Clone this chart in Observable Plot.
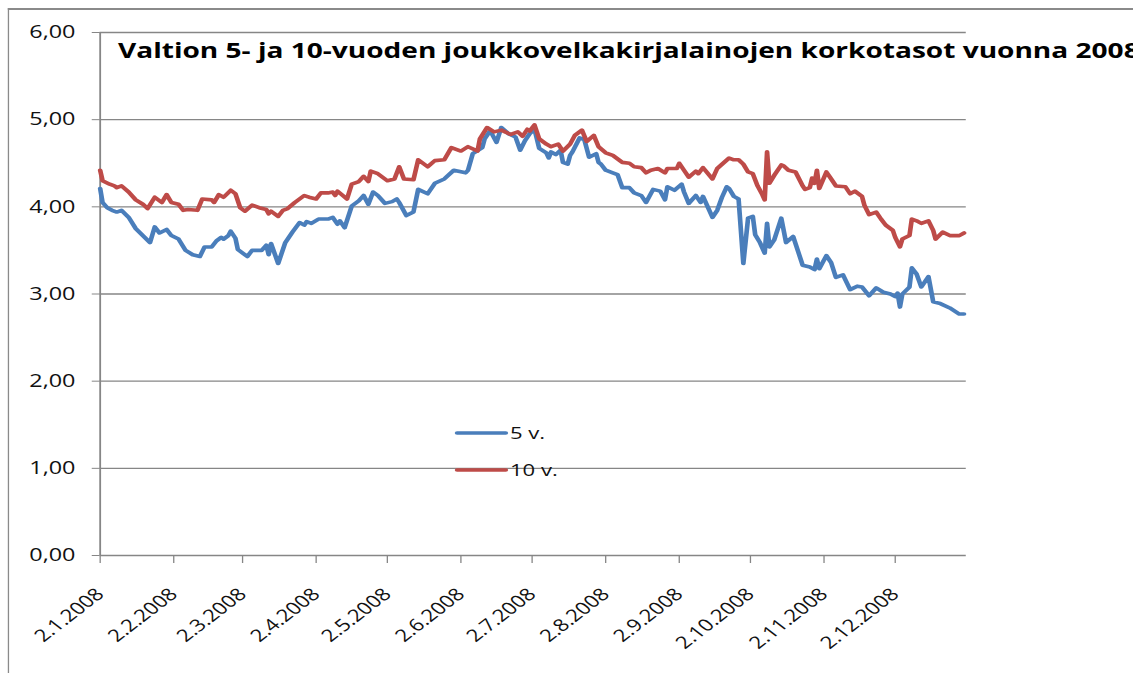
<!DOCTYPE html>
<html><head><meta charset="utf-8">
<script src="https://cdn.jsdelivr.net/npm/d3@7"></script>
<script src="https://cdn.jsdelivr.net/npm/@observablehq/plot@0.6"></script>
<style>
html,body{margin:0;padding:0;background:#fff;overflow:hidden;width:1133px;height:673px;}
#wrap{position:absolute;left:0;top:0;width:872px;height:673px;transform:scaleX(1.2993);transform-origin:0 0;}
#frame{position:absolute;left:6.2px;top:7.5px;width:2000px;height:2000px;border-left:1.7px solid #8a8a8a;border-top:2px solid #8a8a8a;pointer-events:none;}
</style></head><body>
<div id="wrap"></div>
<script>
// Day of year 2008 (1 = 1 Jan) and yields
const day5 = [2,3,5,7,9,11,14,17,20,23,25,27,30,32,35,38,41,44,46,49,51,53,54,56,57,59,60,64,66,70,72,73,74,77,80,83,86,88,89,91,94,98,100,102,103,105,108,111,113,115,117,119,122,125,127,128,131,134,136,140,143,147,151,156,157,159,163,164,166,167,169,171,174,177,179,181,183,185,187,190,191,192,194,196,197,199,200,201,204,206,208,211,212,213,215,218,220,222,225,227,230,232,235,238,240,241,244,247,248,250,253,255,256,260,262,264,266,267,269,271,273,275,277,278,280,282,283,284,286,289,291,294,298,301,303,304,305,308,310,312,315,318,321,323,326,329,332,335,337,338,339,340,343,344,346,348,351,353,356,360,364,366];
const rate5 = [4.21,4.05,3.99,3.96,3.94,3.96,3.88,3.75,3.67,3.59,3.77,3.70,3.74,3.67,3.63,3.50,3.45,3.43,3.54,3.54,3.61,3.65,3.63,3.67,3.72,3.64,3.51,3.43,3.50,3.50,3.56,3.45,3.58,3.35,3.59,3.71,3.82,3.79,3.83,3.81,3.86,3.86,3.88,3.80,3.84,3.76,4.01,4.07,4.13,4.03,4.17,4.13,4.04,4.06,4.09,4.05,3.90,3.94,4.20,4.15,4.27,4.32,4.42,4.39,4.42,4.61,4.68,4.78,4.86,4.84,4.74,4.91,4.84,4.80,4.65,4.76,4.84,4.89,4.67,4.62,4.56,4.63,4.60,4.65,4.51,4.49,4.59,4.63,4.79,4.77,4.57,4.61,4.51,4.49,4.42,4.39,4.37,4.22,4.22,4.16,4.13,4.05,4.20,4.18,4.08,4.23,4.19,4.26,4.17,4.04,4.13,4.05,4.12,3.88,3.96,4.11,4.23,4.21,4.12,4.09,3.35,3.87,3.89,3.68,3.59,3.47,3.81,3.54,3.62,3.87,3.59,3.66,3.33,3.31,3.28,3.40,3.29,3.44,3.36,3.19,3.22,3.05,3.09,3.08,2.98,3.07,3.02,3.00,2.97,3.01,2.85,3.00,3.08,3.30,3.23,3.08,3.20,2.91,2.89,2.84,2.77,2.77];
const day10 = [2,3,6,8,9,11,14,17,20,22,25,28,30,32,35,37,39,43,45,49,50,52,54,57,59,61,63,66,69,72,73,74,77,79,81,84,88,90,93,95,98,100,101,102,106,108,111,113,115,116,119,123,126,128,130,134,136,140,143,147,150,154,157,161,162,165,168,171,175,178,180,182,183,185,187,190,192,195,197,200,202,205,207,210,212,215,218,220,222,225,227,230,232,234,237,240,241,245,246,248,250,253,254,256,260,262,267,269,271,273,275,277,279,281,282,283,284,286,289,290,292,295,298,299,301,302,303,304,305,308,310,312,316,318,320,323,324,326,329,331,333,336,337,339,340,343,344,346,348,351,353,354,357,360,364,366];
const rate10 = [4.42,4.30,4.26,4.24,4.22,4.24,4.17,4.08,4.03,3.98,4.11,4.05,4.14,4.05,4.03,3.96,3.97,3.96,4.09,4.08,4.05,4.14,4.11,4.19,4.15,3.99,3.95,4.02,3.99,3.97,3.92,3.95,3.89,3.96,3.98,4.05,4.13,4.11,4.09,4.16,4.16,4.17,4.13,4.18,4.09,4.26,4.29,4.35,4.29,4.41,4.38,4.30,4.32,4.46,4.32,4.31,4.54,4.46,4.53,4.54,4.68,4.64,4.69,4.64,4.78,4.91,4.86,4.88,4.83,4.86,4.81,4.89,4.87,4.94,4.78,4.72,4.69,4.72,4.64,4.72,4.82,4.88,4.75,4.82,4.69,4.62,4.59,4.55,4.51,4.50,4.46,4.45,4.39,4.42,4.44,4.39,4.44,4.44,4.50,4.42,4.34,4.41,4.38,4.45,4.32,4.44,4.56,4.54,4.54,4.49,4.40,4.38,4.24,4.14,4.08,4.63,4.27,4.36,4.48,4.47,4.42,4.40,4.24,4.20,4.22,4.33,4.27,4.42,4.21,4.40,4.32,4.24,4.23,4.15,4.18,4.12,4.02,3.91,3.94,3.86,3.79,3.73,3.65,3.54,3.63,3.67,3.86,3.84,3.81,3.84,3.73,3.63,3.71,3.67,3.67,3.70];
const seriesNames = ["5 v.", "10 v."];
const seriesColors = ["#4a7ebb", "#be4b48"];
const yTicks = [0, 1, 2, 3, 4, 5, 6];
const tickMonths = [1,2,3,4,5,6,7,8,9,10,11,12];
const title = "Valtion 5- ja 10-vuoden joukkovelkakirjalainojen korkotasot vuonna 2008";

const toDate = d => new Date(Date.UTC(2008, 0, d));
const data5 = day5.map((d, i) => ({date: toDate(d), value: rate5[i]}));
const data10 = day10.map((d, i) => ({date: toDate(d), value: rate10[i]}));
const tickDates = tickMonths.map(m => new Date(Date.UTC(2008, m - 1, 2)));
const x0 = new Date(Date.UTC(2008, 0, 2)), x1 = new Date(Date.UTC(2009, 0, 1));
const fmtDate = d => `${d.getUTCDate()}.${d.getUTCMonth() + 1}.${d.getUTCFullYear()}`;
const FONT = "'Open Sans', sans-serif";

const chart = Plot.plot({
  width: 872, height: 673,
  marginLeft: 76.6, marginRight: 128.7, marginTop: 32, marginBottom: 118,
  style: {fontFamily: FONT, fontSize: "18px", color: "#111", background: "transparent", overflow: "visible"},
  x: {type: "utc", domain: [x0, x1]},
  y: {domain: [0, 6]},
  marks: [
    Plot.ruleY(yTicks, {stroke: "#868686", strokeWidth: 1.3}),
    Plot.ruleX([x0], {y1: 0, y2: 6, stroke: "#868686", strokeWidth: 1.4}),
    Plot.axisY({ticks: yTicks, tickSize: 6, tickPadding: 13, tickFormat: d => d.toFixed(2).replace(".", ","), stroke: "#868686", fill: "#111", label: null}),
    Plot.axisX({ticks: tickDates, tickSize: 8, tickPadding: 28, tickRotate: -45, fontSize: 17, tickFormat: fmtDate, stroke: "#868686", fill: "#111", label: null}),
    Plot.line(data5, {x: "date", y: "value", stroke: seriesColors[0], strokeWidth: 3.6, strokeLinejoin: "round", strokeLinecap: "round"}),
    Plot.line(data10, {x: "date", y: "value", stroke: seriesColors[1], strokeWidth: 3.6, strokeLinejoin: "round", strokeLinecap: "round"})
  ]
});

const svg = d3.select(chart);
svg.append("text").attr("x", 90.8).attr("y", 58).attr("text-anchor", "start")
  .attr("font-family", FONT).attr("font-weight", 700).attr("font-size", 21.6).attr("fill", "#000")
  .text(title);
const lg = svg.append("g").attr("text-anchor", "start");
[433, 470].forEach((yy, i) => {
  lg.append("line").attr("x1", 351.8).attr("x2", 389.3).attr("y1", yy).attr("y2", yy)
    .attr("stroke", seriesColors[i]).attr("stroke-width", 3.6).attr("stroke-linecap", "round");
  lg.append("text").attr("x", 392.5).attr("y", yy).attr("dy", "0.36em").attr("text-anchor", "start")
    .attr("font-family", FONT).attr("font-size", 17).attr("fill", "#111").text(seriesNames[i]);
});

const wrap = document.getElementById("wrap");
wrap.appendChild(chart);
const frame = document.createElement("div");
frame.id = "frame";
wrap.appendChild(frame);
</script>
</body></html>
